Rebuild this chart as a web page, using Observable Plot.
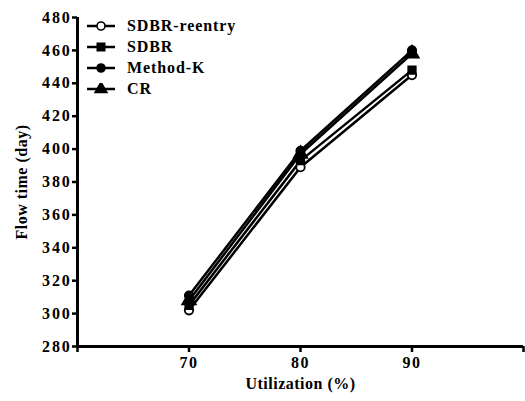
<!DOCTYPE html>
<html>
<head>
<meta charset="utf-8">
<script src="https://cdn.jsdelivr.net/npm/d3@7"></script>
<script src="https://cdn.jsdelivr.net/npm/@observablehq/plot@0.6"></script>
<style>
  html, body { margin: 0; padding: 0; background: #fff; }
  #wrap { position: relative; width: 525px; height: 401px; }
  #wrap svg text { font-family: "Liberation Serif", "Times New Roman", "DejaVu Serif", serif !important; font-weight: bold; }
  #wrap svg g[aria-label="y-axis tick label"] text { letter-spacing: 1.8px; }
  #wrap svg g[aria-label="x-axis tick label"] text { letter-spacing: 1.5px; }
  #wrap svg g[aria-label="x-axis label"] text, #wrap svg g[aria-label="y-axis label"] text { letter-spacing: 0.5px; }
  #legend { position: absolute; left: 86px; top: 15px; font-family: "Liberation Serif", "Times New Roman", "DejaVu Serif", serif; font-weight: bold; font-size: 16px; letter-spacing: 0.9px; color: #000; }
  .row { display: flex; align-items: center; height: 21px; }
  .row svg { margin-right: 11px; }
</style>
</head>
<body>
<div id="wrap"><div id="legend"></div></div>
<script>
const utilization = [70, 80, 90];
const seriesNames = ["SDBR-reentry", "SDBR", "Method-K", "CR"];
const sdbrReentry = [302, 389, 445];
const sdbr = [305, 393, 448];
const methodK = [311, 399, 460];
const cr = [308, 397, 458];
const xTicks = [60, 70, 80, 90, 100];
const yTicks = [280, 300, 320, 340, 360, 380, 400, 420, 440, 460, 480];

const seriesValues = [sdbrReentry, sdbr, methodK, cr];
const symbols = ["circle", "square", "circle", "triangle"];
const fills = ["white", "black", "black", "black"];

const data = [];
seriesNames.forEach((name, i) => {
  utilization.forEach((u, j) => data.push({series: name, x: u, y: seriesValues[i][j], idx: i}));
});

const chart = Plot.plot({
  width: 525,
  height: 401,
  marginLeft: 77,
  marginRight: 2,
  marginTop: 17,
  marginBottom: 55,
  style: {fontFamily: '"Liberation Serif", serif', fontSize: "16px", fontWeight: "bold", background: "white", color: "black"},
  x: {domain: [60, 100]},
  y: {domain: [280, 480]},
  marks: [
    Plot.axisX({ticks: xTicks, tickSize: 6, strokeWidth: 2.5, tickPadding: 4, fontSize: 16,
      tickFormat: d => (d === 60 || d === 100) ? "" : d, label: "Utilization (%)", labelArrow: false, labelAnchor: "center", labelOffset: 42}),
    Plot.axisY({ticks: yTicks, tickSize: 5, strokeWidth: 2.5, tickPadding: 1, fontSize: 16, label: "Flow time (day)", labelArrow: false, labelAnchor: "center", labelOffset: 62}),
    Plot.ruleX([60], {strokeWidth: 3}),
    Plot.ruleY([280], {strokeWidth: 3}),
    ...seriesNames.map((name, i) =>
      Plot.line(data.filter(d => d.idx === i), {x: "x", y: "y", stroke: "black", strokeWidth: 2.5})
    ),
    ...seriesNames.map((name, i) =>
      Plot.dot(data.filter(d => d.idx === i), {x: "x", y: "y", symbol: () => symbols[i], fill: fills[i], stroke: "black", strokeWidth: 1.8, r: i === 3 ? 5 : 4.2})
    )
  ]
});
document.getElementById("wrap").prepend(chart);

// legend
const legend = document.getElementById("legend");
const symPaths = {
  circle: d3.symbol(d3.symbolCircle, 50)(),
  square: d3.symbol(d3.symbolSquare, 55)(),
  triangle: d3.symbol(d3.symbolTriangle, 60)()
};
seriesNames.forEach((name, i) => {
  const row = document.createElement("div");
  row.className = "row";
  row.innerHTML = `<svg width="30" height="12"><line x1="1" x2="29" y1="6" y2="6" stroke="black" stroke-width="2.5"/>` +
    `<path transform="translate(15,6)" d="${symPaths[symbols[i]]}" fill="${fills[i]}" stroke="black" stroke-width="1.6"/></svg><span>${name}</span>`;
  legend.appendChild(row);
});
</script>
</body>
</html>
